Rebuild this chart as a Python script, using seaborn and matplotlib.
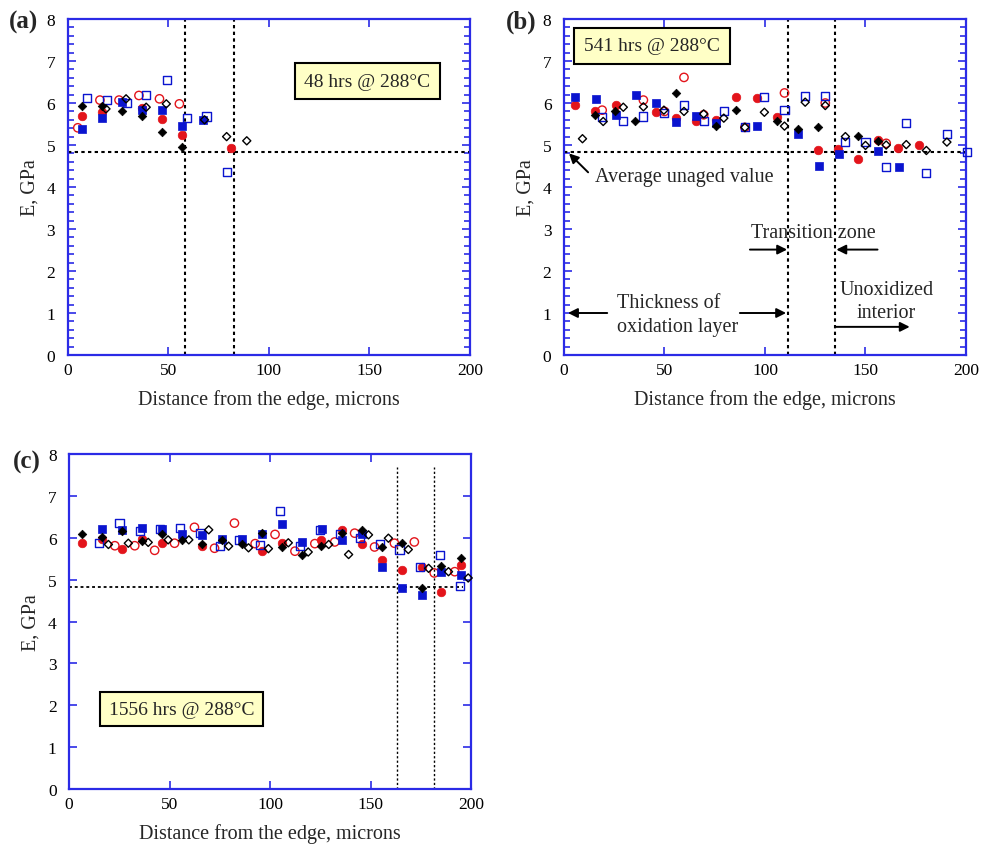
import matplotlib
matplotlib.use("Agg")
import matplotlib.pyplot as plt
import pandas as pd
import seaborn as sns
from matplotlib.ticker import MultipleLocator

# ---------------- data ----------------
AVG_UNAGED = 4.83

# Panel (a): 48 hrs
A_BLACK_FILLED_X = [7, 17, 27, 37, 47, 57]
A_BLACK_FILLED_Y = [5.92, 5.94, 5.82, 5.68, 5.32, 4.95]
A_BLACK_OPEN_X = [19, 29, 39, 49, 68, 79, 89]
A_BLACK_OPEN_Y = [5.86, 6.10, 5.90, 5.98, 5.60, 5.20, 5.10]
A_RED_FILLED_X = [7, 17, 37, 47, 57, 81]
A_RED_FILLED_Y = [5.68, 5.78, 5.88, 5.62, 5.25, 4.93]
A_RED_OPEN_X = [5, 16, 25.5, 35.4, 45.6, 55.5]
A_RED_OPEN_Y = [5.41, 6.07, 6.07, 6.18, 6.10, 5.98]
A_BLUE_FILLED_X = [7, 17, 27, 37, 47, 57, 67]
A_BLUE_FILLED_Y = [5.37, 5.65, 6.02, 5.83, 5.83, 5.45, 5.60]
A_BLUE_OPEN_X = [9.4, 19.3, 29.3, 39, 49.4, 59.3, 69, 79]
A_BLUE_OPEN_Y = [6.11, 6.07, 6.00, 6.20, 6.55, 5.64, 5.68, 4.35]
A_VLINES = [58.3, 82.5]

# Panel (b): 541 hrs
B_BLACK_FILLED_X = [15.5, 25.5, 35.5, 55.8, 75.8, 85.8, 105.8, 116.3, 126.2, 146.2, 156.2]
B_BLACK_FILLED_Y = [5.72, 5.80, 5.58, 6.25, 5.46, 5.84, 5.56, 5.38, 5.42, 5.22, 5.09]
B_BLACK_OPEN_X = [9.2, 19.5, 29.5, 39.5, 49.7, 59.7, 69.5, 79.5, 90, 99.7, 109.7,
                  120, 130, 140, 150, 160.3, 170.3, 180.3, 190.5]
B_BLACK_OPEN_Y = [5.15, 5.56, 5.90, 5.91, 5.83, 5.80, 5.74, 5.64, 5.42, 5.78, 5.45,
                  6.02, 5.94, 5.20, 4.99, 5.00, 5.01, 4.87, 5.07]
B_RED_FILLED_X = [5.5, 15.5, 25.8, 45.8, 55.8, 65.8, 75.8, 85.8, 95.8, 105.8,
                  126.2, 136.2, 146.2, 156.2, 166.2, 176.5]
B_RED_FILLED_Y = [5.96, 5.82, 5.96, 5.78, 5.64, 5.58, 5.60, 6.15, 6.12, 5.66,
                  4.89, 4.90, 4.66, 5.13, 4.93, 4.99]
B_RED_OPEN_X = [19, 39.5, 50, 59.7, 69.5, 90, 109.7, 130, 160.3]
B_RED_OPEN_Y = [5.83, 6.07, 5.80, 6.61, 5.72, 5.42, 6.24, 6.00, 5.04]
B_BLUE_FILLED_X = [5.5, 15.8, 25.8, 35.8, 45.8, 55.8, 65.8, 75.8, 96, 116.3,
                   126.7, 136.7, 156.2, 166.7]
B_BLUE_FILLED_Y = [6.15, 6.09, 5.72, 6.19, 6.01, 5.55, 5.70, 5.52, 5.46, 5.26,
                   4.50, 4.79, 4.85, 4.47]
B_BLUE_OPEN_X = [19, 29.5, 39.5, 49.7, 59.7, 69.5, 79.5, 90, 99.7, 109.7, 120, 130,
                 140, 150, 160.3, 170.3, 180.3, 190.5, 200.5]
B_BLUE_OPEN_Y = [5.66, 5.57, 5.68, 5.76, 5.95, 5.58, 5.80, 5.42, 6.14, 5.84, 6.16, 6.16,
                 5.07, 5.07, 4.47, 5.52, 4.33, 5.27, 4.83]
B_VLINES = [111.5, 134.8]

# Panel (c): 1556 hrs
C_BLACK_FILLED_X = [6.3, 16.2, 26.6, 36.1, 46.4, 56.3, 66.3, 76.1, 86, 95.9, 105.8,
                    115.7, 125.6, 135.8, 145.7, 155.6, 165.7, 175.6, 185.3, 195.2]
C_BLACK_FILLED_Y = [6.08, 6.02, 6.17, 5.92, 6.10, 5.94, 5.86, 5.95, 5.85, 6.12, 5.78,
                    5.60, 5.80, 6.11, 6.18, 5.78, 5.87, 4.79, 5.32, 5.52]
C_BLACK_OPEN_X = [19.6, 29.5, 39.4, 49.3, 59.6, 69.5, 79.4, 89.3, 99.2, 109.1, 119,
                  129.2, 139.1, 149, 158.9, 168.8, 178.9, 188.8, 198.6]
C_BLACK_OPEN_Y = [5.84, 5.87, 5.89, 5.95, 5.95, 6.19, 5.80, 5.76, 5.74, 5.88, 5.66,
                  5.84, 5.60, 6.07, 5.99, 5.72, 5.27, 5.19, 5.04]
C_RED_FILLED_X = [6.3, 16.2, 26.2, 36.1, 46.4, 66.3, 95.9, 105.8, 125.6, 135.8,
                  145.7, 155.6, 165.7, 175.6, 185.3, 195.2]
C_RED_FILLED_Y = [5.88, 5.96, 5.74, 5.98, 5.87, 5.80, 5.68, 5.87, 5.94, 6.19,
                  5.86, 5.46, 5.24, 5.29, 4.71, 5.36]
C_RED_OPEN_X = [22.8, 32.7, 42.6, 52.5, 62.4, 72.4, 82.3, 92.6, 102.5, 112.4, 122.3,
                132.2, 142.1, 152, 161.9, 171.8, 181.7, 191.9]
C_RED_OPEN_Y = [5.81, 5.81, 5.70, 5.87, 6.25, 5.75, 6.35, 5.86, 6.08, 5.68, 5.86,
                5.90, 6.11, 5.78, 5.87, 5.90, 5.16, 5.19]
C_BLUE_FILLED_X = [16.3, 26.6, 36.5, 46.4, 56.3, 66.3, 76.1, 86, 95.9, 106.1, 116,
                   125.9, 135.8, 145.7, 155.6, 165.7, 175.6, 185.3, 195.2]
C_BLUE_FILLED_Y = [6.22, 6.18, 6.23, 6.22, 6.10, 6.06, 5.98, 5.98, 6.10, 6.33, 5.90,
                   6.21, 5.94, 6.10, 5.29, 4.79, 4.63, 5.19, 5.12]
C_BLUE_OPEN_X = [15, 25.1, 35.1, 45.2, 55, 65, 74.9, 84.7, 95, 105, 114.9, 124.8,
                 134.7, 144.6, 154.5, 164.4, 174.6, 184.5, 194.4]
C_BLUE_OPEN_Y = [5.87, 6.35, 6.16, 6.22, 6.24, 6.11, 5.80, 5.94, 5.82, 6.63, 5.80, 6.19,
                 6.10, 6.00, 5.86, 5.72, 5.30, 5.58, 4.85]
C_VLINES = [163.0, 181.5]

X_TICKS = [0, 50, 100, 150, 200]
Y_TICKS = [0, 1, 2, 3, 4, 5, 6, 7, 8]

# ---------------- style ----------------
sns.set_theme(style="white")
plt.rcParams["font.family"] = ["Liberation Serif", "DejaVu Serif"]

RED = "#E3141B"
BLUE = "#0A14CF"
SPINE = "#2B2BE6"

fig = plt.figure(figsize=(9.86, 8.45), dpi=100)
axA = fig.add_axes([0.0687, 0.5787, 0.408, 0.3976])
axB = fig.add_axes([0.572, 0.5787, 0.4077, 0.3976])
axC = fig.add_axes([0.070, 0.0651, 0.4077, 0.3964])


def scatter_series(ax, xs, ys, marker, color, filled, s):
    df = pd.DataFrame({"x": xs, "y": ys})
    if filled:
        sns.scatterplot(data=df, x="x", y="y", ax=ax, marker=marker, s=s,
                        color=color, edgecolor=color, linewidth=0.5,
                        clip_on=False, zorder=3)
    else:
        sns.scatterplot(data=df, x="x", y="y", ax=ax, marker=marker, s=s,
                        facecolor="none", edgecolor=color, linewidth=1.0,
                        clip_on=False, zorder=3)


def draw_panel(ax, rf, ro, bf, bo, kf, ko):
    scatter_series(ax, *ro, "o", RED, False, 36)
    scatter_series(ax, *rf, "o", RED, True, 38)
    scatter_series(ax, *bf, "s", BLUE, True, 40)
    scatter_series(ax, *bo, "s", BLUE, False, 34)
    scatter_series(ax, *kf, "D", "black", True, 19)
    scatter_series(ax, *ko, "D", "black", False, 17)


def style_axes(ax, minor):
    ax.set_xlim(0, 200)
    ax.set_ylim(0, 8)
    ax.set_xticks(X_TICKS)
    ax.set_yticks(Y_TICKS)
    if minor:
        ax.yaxis.set_minor_locator(MultipleLocator(0.2))
    ax.tick_params(which="both", direction="in", top=True, right=True,
                   bottom=True, left=True, color=SPINE, labelcolor="black",
                   labelsize=12.5, width=1.2)
    ax.tick_params(axis="x", which="major", pad=5)
    ax.tick_params(axis="y", which="major", pad=9)
    ax.tick_params(which="major", length=6)
    ax.tick_params(which="minor", length=4)
    for sp in ax.spines.values():
        sp.set_color(SPINE)
        sp.set_linewidth(1.6)
    ax.set_xlabel("Distance from the edge, microns", fontsize=14.5, labelpad=8)
    ax.set_ylabel("E, GPa", fontsize=14.5, labelpad=5)
    ax.grid(False)


DOT = (0, (1.6, 1.6))

# Panel (a)
draw_panel(axA, (A_RED_FILLED_X, A_RED_FILLED_Y), (A_RED_OPEN_X, A_RED_OPEN_Y),
           (A_BLUE_FILLED_X, A_BLUE_FILLED_Y), (A_BLUE_OPEN_X, A_BLUE_OPEN_Y),
           (A_BLACK_FILLED_X, A_BLACK_FILLED_Y), (A_BLACK_OPEN_X, A_BLACK_OPEN_Y))
axA.axhline(AVG_UNAGED, color="black", ls=DOT, lw=1.5, zorder=2)
for v in A_VLINES:
    axA.axvline(v, color="black", ls=DOT, lw=1.5, zorder=2)
style_axes(axA, True)
box = dict(boxstyle="square,pad=0.5", fc="#FFFFC6", ec="black", lw=1.5)
axA.text(149, 6.52, "48 hrs @ 288°C", fontsize=14, ha="center", va="center", bbox=box)

# Panel (b)
draw_panel(axB, (B_RED_FILLED_X, B_RED_FILLED_Y), (B_RED_OPEN_X, B_RED_OPEN_Y),
           (B_BLUE_FILLED_X, B_BLUE_FILLED_Y), (B_BLUE_OPEN_X, B_BLUE_OPEN_Y),
           (B_BLACK_FILLED_X, B_BLACK_FILLED_Y), (B_BLACK_OPEN_X, B_BLACK_OPEN_Y))
axB.axhline(AVG_UNAGED, color="black", ls=DOT, lw=1.5, zorder=2)
for v in B_VLINES:
    axB.axvline(v, color="black", ls=DOT, lw=1.5, zorder=2)
style_axes(axB, True)
axB.text(43.8, 7.36, "541 hrs @ 288°C", fontsize=14, ha="center", va="center", bbox=box)

arrow = dict(arrowstyle="-|>", color="black", lw=1.4, mutation_scale=14,
             shrinkA=0, shrinkB=0)
TFS = 14.5
axB.text(15.3, 4.25, "Average unaged value", fontsize=TFS, ha="left", va="center")
axB.annotate("", xy=(2.5, 4.80), xytext=(12, 4.35), arrowprops=arrow)
axB.text(124, 2.92, "Transition zone", fontsize=TFS, ha="center", va="center")
axB.annotate("", xy=(111, 2.51), xytext=(92.5, 2.51), arrowprops=arrow)
axB.annotate("", xy=(135.5, 2.51), xytext=(156, 2.51), arrowprops=arrow)
axB.text(26.5, 1.26, "Thickness of", fontsize=TFS, ha="left", va="center")
axB.text(26.5, 0.69, "oxidation layer", fontsize=TFS, ha="left", va="center")
axB.annotate("", xy=(2, 1.0), xytext=(21.5, 1.0), arrowprops=arrow)
axB.annotate("", xy=(110.5, 1.0), xytext=(87.5, 1.0), arrowprops=arrow)
axB.text(160.5, 1.57, "Unoxidized", fontsize=TFS, ha="center", va="center")
axB.text(160.5, 1.02, "interior", fontsize=TFS, ha="center", va="center")
axB.annotate("", xy=(172, 0.67), xytext=(135, 0.67), arrowprops=arrow)

# Panel (c)
draw_panel(axC, (C_RED_FILLED_X, C_RED_FILLED_Y), (C_RED_OPEN_X, C_RED_OPEN_Y),
           (C_BLUE_FILLED_X, C_BLUE_FILLED_Y), (C_BLUE_OPEN_X, C_BLUE_OPEN_Y),
           (C_BLACK_FILLED_X, C_BLACK_FILLED_Y), (C_BLACK_OPEN_X, C_BLACK_OPEN_Y))
axC.plot([0, 196], [AVG_UNAGED, AVG_UNAGED], color="black", ls=DOT, lw=1.3, zorder=2)
for v in C_VLINES:
    axC.plot([v, v], [0, 7.7], color="black", ls=DOT, lw=1.0, zorder=2)
style_axes(axC, False)
axC.text(56.2, 1.91, "1556 hrs @ 288°C", fontsize=14, ha="center", va="center",
         bbox=dict(boxstyle="square,pad=0.45", fc="#FFFFC6", ec="black", lw=1.5))

# Panel letters
fig.text(24 / 986, 1 - 22 / 845, "(a)", fontsize=18, fontweight="bold", ha="center", va="center")
fig.text(521 / 986, 1 - 22 / 845, "(b)", fontsize=18, fontweight="bold", ha="center", va="center")
fig.text(27 / 986, 1 - 462 / 845, "(c)", fontsize=18, fontweight="bold", ha="center", va="center")

fig.savefig("out.png", dpi=100)
